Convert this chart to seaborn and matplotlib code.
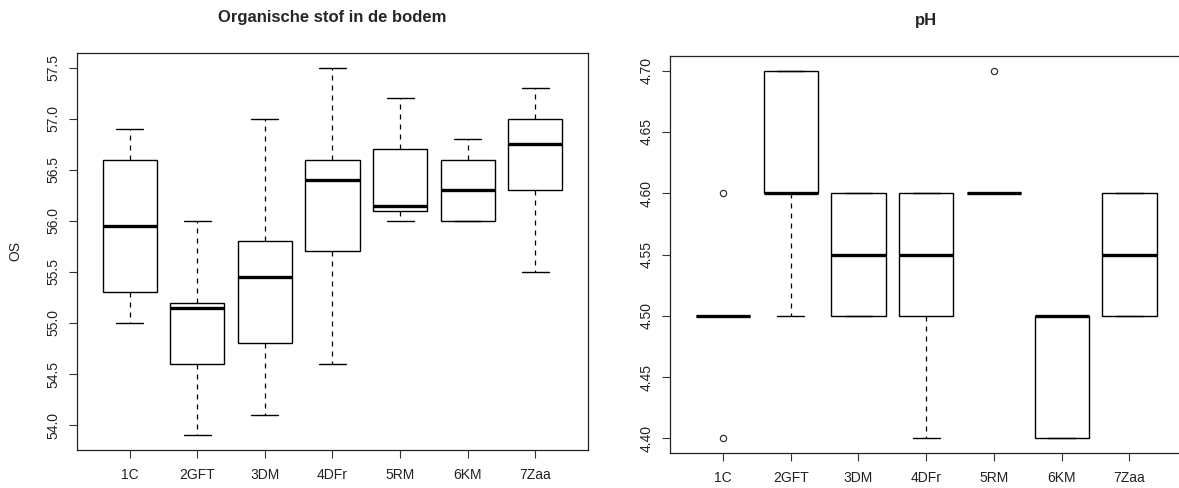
import numpy as np
import pandas as pd
import matplotlib
matplotlib.use("Agg")
import matplotlib.pyplot as plt
import seaborn as sns

# =============================================================================
# Data: box summaries (whisker ends, hinges, median)
# =============================================================================
groups = ["1C", "2GFT", "3DM", "4DFr", "5RM", "6KM", "7Zaa"]

os_low = [55.0, 53.9, 54.1, 54.6, 56.0, 56.0, 55.5]
os_q1 = [55.3, 54.6, 54.8, 55.7, 56.1, 56.0, 56.3]
os_med = [55.95, 55.15, 55.45, 56.4, 56.15, 56.3, 56.75]
os_q3 = [56.6, 55.2, 55.8, 56.6, 56.7, 56.6, 57.0]
os_high = [56.9, 56.0, 57.0, 57.5, 57.2, 56.8, 57.3]

ph_low = [4.5, 4.5, 4.5, 4.4, 4.6, 4.4, 4.5]
ph_q1 = [4.5, 4.6, 4.5, 4.5, 4.6, 4.4, 4.5]
ph_med = [4.5, 4.6, 4.55, 4.55, 4.6, 4.5, 4.55]
ph_q3 = [4.5, 4.7, 4.6, 4.6, 4.6, 4.5, 4.6]
ph_high = [4.5, 4.7, 4.6, 4.6, 4.6, 4.5, 4.6]

# outliers (open circles)
ph_out_group = ["1C", "1C", "5RM"]
ph_out_value = [4.4, 4.6, 4.7]

os_ticks = [54.0, 54.5, 55.0, 55.5, 56.0, 56.5, 57.0, 57.5]
ph_ticks = [4.40, 4.45, 4.50, 4.55, 4.60, 4.65, 4.70]


def long_table(low, q1, med, q3, high, out_group=(), out_value=()):
    rows = []
    for i, g in enumerate(groups):
        for v in (low[i], q1[i], med[i], q3[i], high[i]):
            rows.append((g, v))
    for g, v in zip(out_group, out_value):
        rows.append((g, v))
    return pd.DataFrame(rows, columns=["Behandeling", "waarde"])


df_os = long_table(os_low, os_q1, os_med, os_q3, os_high)
df_ph = long_table(ph_low, ph_q1, ph_med, ph_q3, ph_high, ph_out_group, ph_out_value)

# =============================================================================
# Style (R base graphics look)
# =============================================================================
sns.set_style("white")
plt.rcParams['font.family'] = ['Liberation Sans', 'DejaVu Sans']

fig = plt.figure(figsize=(11.79, 4.88), dpi=100)
ax1 = fig.add_axes([0.0653, 0.0779, 0.4334, 0.8135])
ax2 = fig.add_axes([0.5683, 0.0717, 0.4345, 0.8135])

box_kw = dict(
    order=groups, width=0.8, whis=1.5, color="white", linecolor="black",
    linewidth=1.0, saturation=1,
    medianprops={"linewidth": 2.4, "color": "black"},
    whiskerprops={"linestyle": (0, (4, 4)), "linewidth": 0.9},
    capprops={"linewidth": 1.0},
    flierprops={"marker": "o", "markerfacecolor": "none",
                "markeredgecolor": "#333333", "markersize": 4.5,
                "markeredgewidth": 0.9},
)


def style_axes(ax, ticks, fmt, data):
    lo, hi = data.min(), data.max()
    pad = 0.04 * (hi - lo)
    ax.set_ylim(lo - pad, hi + pad)
    ax.set_xlim(-0.78, len(groups) - 0.22)
    ax.set_yticks(ticks)
    ax.set_yticklabels([fmt.format(t) for t in ticks])
    plt.setp(ax.get_yticklabels(), rotation=90, va="center")
    ax.tick_params(axis="both", direction="out", length=5.8, width=0.8,
                   color="#333333", labelcolor="#222222", labelsize=10,
                   left=True, bottom=True)
    ax.tick_params(axis="x", pad=7)
    ax.tick_params(axis="y", pad=6)
    for sp in ax.spines.values():
        sp.set_visible(True)
        sp.set_color("#222222")
        sp.set_linewidth(0.9)
    ax.set_xlabel("")


sns.boxplot(data=df_os, x="Behandeling", y="waarde", ax=ax1, **box_kw)
style_axes(ax1, os_ticks, "{:.1f}", df_os["waarde"])
ax1.set_ylabel("OS", fontsize=10, color="#222222")
ax1.yaxis.set_label_coords(-0.106, 0.5)
ax1.set_title("Organische stof in de bodem", fontsize=12, fontweight="bold",
              pad=22)

sns.boxplot(data=df_ph, x="Behandeling", y="waarde", ax=ax2, **box_kw)
style_axes(ax2, ph_ticks, "{:.2f}", df_ph["waarde"])
ax2.set_ylabel("")
ax2.set_title("pH", fontsize=12, fontweight="bold", pad=22)

fig.savefig("out.png", dpi=100)
plt.close(fig)
